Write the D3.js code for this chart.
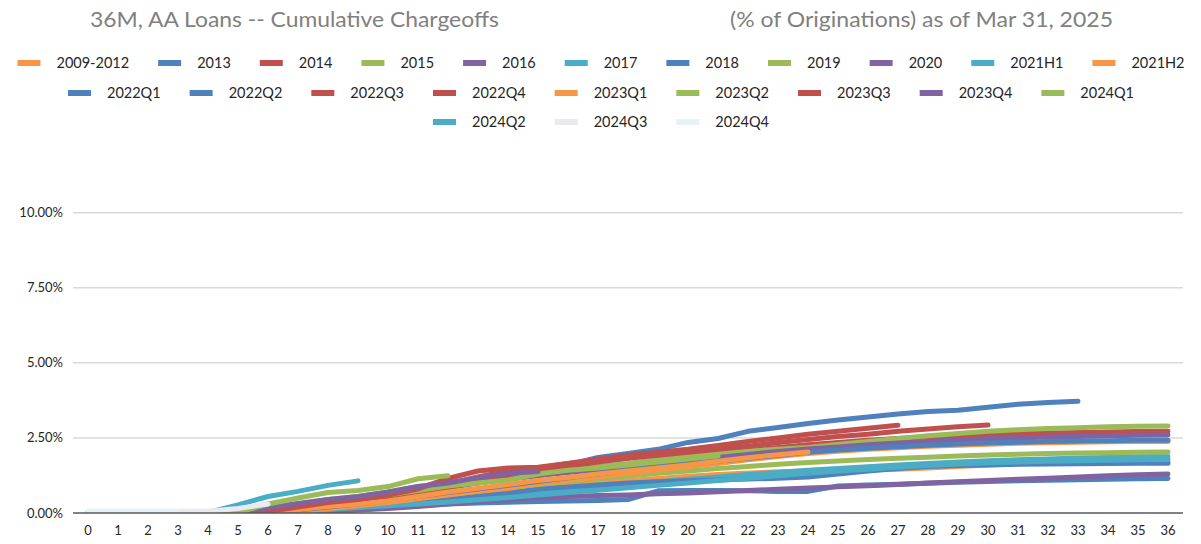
<!DOCTYPE html>
<html>
<head>
<meta charset="utf-8">
<script src="https://cdn.jsdelivr.net/npm/d3@7"></script>
<style>
  body { margin: 0; background: #fff; }
  svg { display: block; font-family: Lato, "Open Sans", sans-serif; }
</style>
</head>
<body>
<div id="chart"></div>
<script>
let width = 1201;
let height = 544;

// months on books 0..36
const months = d3.range(0, 37);
const yTicks = [0, 2.5, 5, 7.5, 10];

const seriesNames = ["2009-2012", "2013", "2014", "2015", "2016", "2017", "2018", "2019", "2020",
    "2021H1", "2021H2", "2022Q1", "2022Q2", "2022Q3", "2022Q4", "2023Q1", "2023Q2", "2023Q3",
    "2023Q4", "2024Q1", "2024Q2", "2024Q3", "2024Q4"];

// cumulative chargeoffs, % of originations, by month
const v2009_2012 = [0,0,0,0,0,0,0.02,0.1,0.18,0.26,0.35,0.45,0.55,0.65,0.74,0.83,0.92,1.0,1.08,1.15,1.22,1.28,1.33,1.37,1.4,1.42,1.44,1.46,1.5,1.55,1.6,1.64,1.67,1.69,1.7,1.71,1.72];
const v2013 = [0,0,0,0,0,0,0,0.03,0.08,0.12,0.18,0.24,0.3,0.33,0.36,0.38,0.4,0.42,0.45,0.74,0.75,0.75,0.74,0.72,0.72,0.9,0.93,0.96,0.99,1.02,1.05,1.07,1.09,1.11,1.12,1.14,1.15];
const v2014 = [0,0,0,0,0,0,0.05,0.18,0.3,0.4,0.55,0.7,0.85,1.0,1.12,1.25,1.38,1.5,1.62,1.75,1.86,1.97,2.08,2.18,2.27,2.35,2.42,2.48,2.53,2.57,2.61,2.64,2.66,2.68,2.7,2.71,2.72];
const v2015 = [0,0,0,0,0,0,0.15,0.3,0.45,0.55,0.7,0.88,1.0,1.12,1.22,1.35,1.45,1.55,1.65,1.78,1.88,1.98,2.06,2.12,2.18,2.28,2.38,2.48,2.57,2.65,2.72,2.77,2.81,2.84,2.87,2.89,2.9];
const v2016 = [0,0,0,0,0,0,0.1,0.22,0.35,0.48,0.6,0.75,0.9,1.02,1.15,1.25,1.35,1.45,1.55,1.65,1.75,1.85,1.95,2.05,2.13,2.2,2.27,2.33,2.38,2.43,2.47,2.5,2.53,2.55,2.57,2.59,2.6];
const v2017 = [0,0,0,0,0,0,0.02,0.08,0.15,0.22,0.3,0.38,0.46,0.55,0.63,0.72,0.8,0.88,0.96,1.04,1.12,1.2,1.28,1.35,1.42,1.48,1.54,1.6,1.65,1.7,1.74,1.77,1.8,1.83,1.85,1.87,1.88];
const v2018 = [0,0,0,0,0,0,0.02,0.06,0.12,0.18,0.25,0.35,0.45,0.55,0.65,0.8,0.87,0.93,1.0,1.04,1.07,1.1,1.13,1.16,1.2,1.3,1.4,1.48,1.55,1.58,1.6,1.62,1.63,1.64,1.65,1.66,1.66];
const v2019 = [0,0,0,0,0,0,0.05,0.15,0.25,0.35,0.45,0.55,0.65,0.75,0.85,0.95,1.05,1.14,1.23,1.32,1.4,1.48,1.55,1.62,1.68,1.73,1.78,1.82,1.86,1.9,1.93,1.96,1.98,2.0,2.01,2.02,2.03];
const v2020 = [0,0,0,0,0,0,0,0.02,0.05,0.1,0.15,0.22,0.3,0.38,0.45,0.52,0.55,0.58,0.6,0.64,0.67,0.71,0.75,0.79,0.83,0.87,0.91,0.95,1.0,1.04,1.08,1.12,1.16,1.2,1.24,1.27,1.3];
const v2021H1 = [0,0,0,0,0,0,0.02,0.06,0.12,0.18,0.24,0.3,0.37,0.44,0.52,0.6,0.68,0.76,0.84,0.92,1.0,1.08,1.16,1.24,1.32,1.4,1.46,1.52,1.58,1.63,1.67,1.7,1.72,1.74,1.76,1.77,1.78];
const v2021H2 = [0,0,0,0,0,0,0,0.06,0.14,0.24,0.35,0.47,0.6,0.72,0.85,0.97,1.09,1.2,1.32,1.43,1.55,1.65,1.77,1.88,1.98,2.06,2.12,2.17,2.22,2.26,2.29,2.32,2.34,2.36,2.37,2.38,2.38];
const v2022Q1 = [0,0,0,0,0,0,0.03,0.1,0.2,0.3,0.42,0.55,0.68,0.8,0.92,1.05,1.17,1.3,1.42,1.53,1.63,1.72,1.82,1.92,2.02,2.1,2.16,2.21,2.26,2.3,2.33,2.36,2.38,2.4,2.41,2.42,2.42];
const v2022Q2 = [0,0,0,0,0,0,0.03,0.12,0.25,0.38,0.5,0.65,0.85,1.05,1.2,1.4,1.6,1.85,1.98,2.12,2.35,2.48,2.72,2.85,2.98,3.1,3.2,3.3,3.38,3.42,3.52,3.62,3.68,3.72];
const v2022Q3 = [0,0,0,0,0,0,0.02,0.12,0.25,0.38,0.5,0.65,0.85,1.05,1.25,1.4,1.55,1.7,1.82,1.92,2.02,2.12,2.22,2.35,2.45,2.55,2.62,2.72,2.8,2.87,2.93];
const v2022Q4 = [0,0,0,0,0,0,0.05,0.15,0.3,0.45,0.6,0.75,0.95,1.2,1.4,1.5,1.65,1.8,1.92,2.02,2.12,2.25,2.38,2.5,2.62,2.72,2.82,2.92];
const v2023Q1 = [0,0,0,0,0,0,0.05,0.12,0.22,0.3,0.4,0.55,0.7,0.82,0.95,1.08,1.18,1.3,1.4,1.5,1.6,1.72,1.84,1.94,2.03];
const v2023Q2 = [0,0,0,0,0,0,0.1,0.25,0.38,0.48,0.6,0.75,0.9,1.0,1.1,1.3,1.42,1.5,1.6,1.7,1.8,1.9];
const v2023Q3 = [0,0,0,0,0,0,0.05,0.2,0.35,0.45,0.6,0.8,1.15,1.4,1.5,1.52,1.65,1.75,1.82];
const v2023Q4 = [0,0,0,0,0,0,0.18,0.32,0.45,0.55,0.7,0.88,1.0,1.18,1.32,1.38];
const v2024Q1 = [0,0,0,0,0,0.02,0.3,0.5,0.68,0.75,0.88,1.14,1.24];
const v2024Q2 = [0,0,0,0,0.02,0.27,0.55,0.72,0.92,1.07];
const v2024Q3 = [0.06,0.06,0.06,0.06,0.06,0.15,0.3];
const v2024Q4 = [0.06,0.06,0.06,0.06];

const seriesValues = [v2009_2012, v2013, v2014, v2015, v2016, v2017, v2018, v2019, v2020,
    v2021H1, v2021H2, v2022Q1, v2022Q2, v2022Q3, v2022Q4, v2023Q1, v2023Q2, v2023Q3,
    v2023Q4, v2024Q1, v2024Q2, v2024Q3, v2024Q4];

// excel 2010 theme colours, one per series
const palette = ["#F79646", "#4F81BD", "#C0504D", "#9BBB59", "#8064A2", "#4BACC6", "#4F81BD", "#9BBB59", "#8064A2",
    "#4BACC6", "#F79646", "#4F81BD", "#4F81BD", "#C0504D", "#C0504D", "#F79646", "#9BBB59", "#C0504D",
    "#8064A2", "#9BBB59", "#4BACC6", "#E9E9EF", "#E6F2F5"];

const legendRows = [11, 9, 3];

const series = seriesNames.map((name, i) => ({
    name: name,
    color: palette[i],
    values: seriesValues[i].map((v, m) => ({ month: months[m], value: v }))
}));

let plot = { left: 73, right: 1183, top: 200, bottom: 513 };

const x = d3.scalePoint()
    .domain(months)
    .range([plot.left, plot.right])
    .padding(0.5);

const y = d3.scaleLinear()
    .domain([0, 10])
    .range([plot.bottom, 212.7]);

const svg = d3.select("#chart")
    .append("svg")
    .attr("width", width)
    .attr("height", height);

// titles
svg.append("text")
    .attr("x", 90).attr("y", 27)
    .attr("fill", "#808080")
    .style("font-size", "21px")
    .attr("textLength", 409)
    .attr("lengthAdjust", "spacingAndGlyphs")
    .text("36M, AA Loans -- Cumulative Chargeoffs");

svg.append("text")
    .attr("x", 730).attr("y", 27)
    .attr("fill", "#808080")
    .style("font-size", "21px")
    .attr("textLength", 383)
    .attr("lengthAdjust", "spacingAndGlyphs")
    .text("(% of Originations) as of Mar 31, 2025");

// legend
const legend = svg.append("g").style("font-size", "14.5px").attr("fill", "#262626");
const rowY = [63, 93, 122];
let idx = 0;
legendRows.forEach((count, r) => {
    const items = series.slice(idx, idx + count);
    idx += count;
    const g = legend.append("g");
    const nodes = g.selectAll("g.item")
        .data(items)
        .join("g")
        .attr("class", "item");
    nodes.append("rect")
        .attr("width", 23).attr("height", 6)
        .attr("y", rowY[r] - 3)
        .attr("fill", d => d.color);
    nodes.append("text")
        .attr("x", 39)
        .attr("y", rowY[r] + 5)
        .text(d => d.name);
    let widths = [];
    nodes.each(function() {
        widths.push(39 + d3.select(this).select("text").node().getComputedTextLength());
    });
    const gap = 29;
    const total = d3.sum(widths) + gap * (widths.length - 1);
    let cx = 601 - total / 2;
    nodes.attr("transform", (d, i) => {
        const t = `translate(${cx},0)`;
        cx += widths[i] + gap;
        return t;
    });
});

// gridlines
svg.append("g")
    .selectAll("line")
    .data(yTicks.filter(d => d > 0))
    .join("line")
    .attr("x1", plot.left).attr("x2", plot.right)
    .attr("y1", d => y(d)).attr("y2", d => y(d))
    .attr("stroke", "#d9d9d9")
    .attr("stroke-width", 1.5);

// y labels
svg.append("g")
    .style("font-size", "13px")
    .attr("fill", "#262626")
    .attr("text-anchor", "end")
    .selectAll("text")
    .data(yTicks)
    .join("text")
    .attr("x", 63)
    .attr("y", d => y(d) + 4.5)
    .text(d => d3.format(".2f")(d) + "%");

svg.append("clipPath")
    .attr("id", "plotclip")
    .append("rect")
    .attr("x", plot.left).attr("y", plot.top)
    .attr("width", plot.right - plot.left)
    .attr("height", plot.bottom - plot.top);

const line = d3.line()
    .x(d => x(d.month))
    .y(d => y(d.value));

svg.append("g")
    .attr("clip-path", "url(#plotclip)")
    .selectAll("path")
    .data(series)
    .join("path")
    .attr("d", d => line(d.values))
    .attr("fill", "none")
    .attr("stroke", d => d.color)
    .attr("stroke-width", 5)
    .attr("stroke-linejoin", "round")
    .attr("stroke-linecap", "round");

// x axis
svg.append("line")
    .attr("x1", plot.left).attr("x2", plot.right)
    .attr("y1", plot.bottom).attr("y2", plot.bottom)
    .attr("stroke", "#595959")
    .attr("stroke-width", 1.5);

svg.append("g")
    .style("font-size", "13px")
    .attr("fill", "#262626")
    .attr("text-anchor", "middle")
    .selectAll("text")
    .data(months)
    .join("text")
    .attr("x", d => x(d))
    .attr("y", 535)
    .text(d => d);
</script>
</body>
</html>
